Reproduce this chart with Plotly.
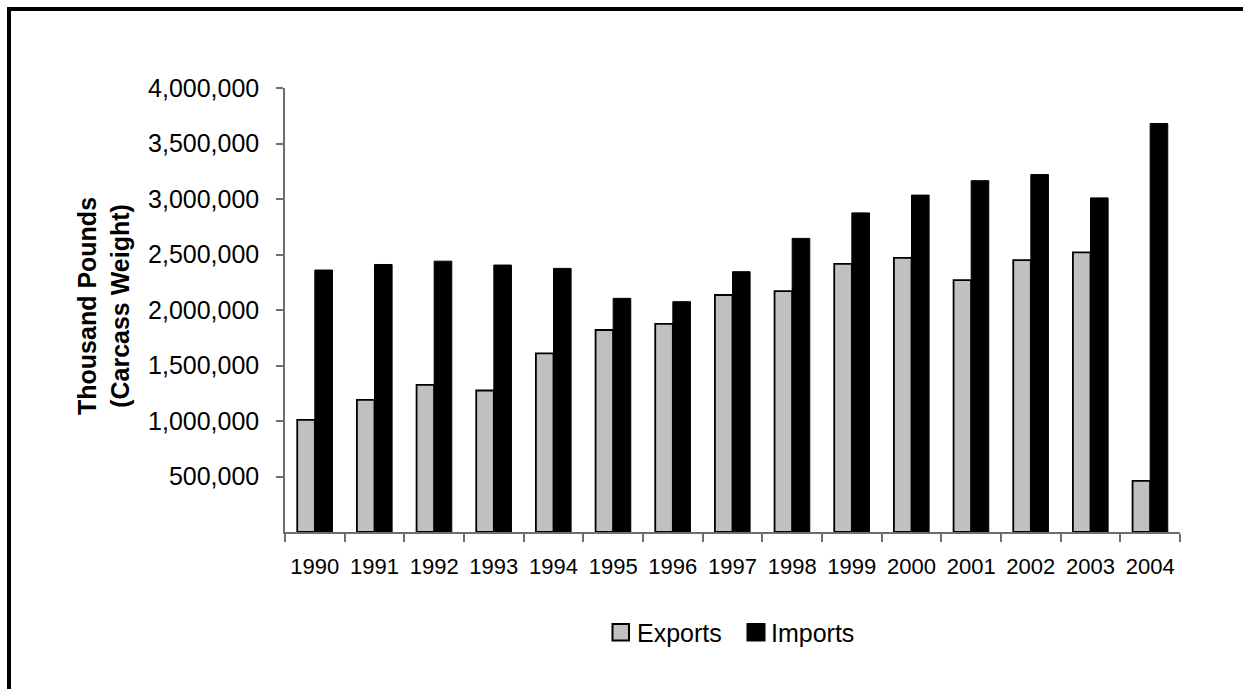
import plotly.graph_objects as go

# Beef trade, thousand pounds (carcass weight)
years = ["1990", "1991", "1992", "1993", "1994", "1995", "1996", "1997",
         "1998", "1999", "2000", "2001", "2002", "2003", "2004"]
exports = [1010000, 1190000, 1325000, 1275000, 1610000, 1820000, 1875000, 2135000,
           2170000, 2415000, 2470000, 2270000, 2450000, 2520000, 460000]
imports = [2360000, 2410000, 2440000, 2405000, 2375000, 2105000, 2075000, 2345000,
           2645000, 2875000, 3035000, 3165000, 3220000, 3010000, 3680000]
y_ticks = [500000, 1000000, 1500000, 2000000, 2500000, 3000000, 3500000, 4000000]

W_PX, H_PX = 1243, 689
L, R, T, B = 285, 1180, 88, 532  # plot area in pixels


def px_x(p):
    return (p - L) / (R - L)


def px_y(p):
    return (B - p) / (B - T)


FONT = "Liberation Sans, Arial, sans-serif"

fig = go.Figure()
fig.add_trace(go.Bar(
    x=years, y=exports, name="Exports",
    marker=dict(color="#C0C0C0", line=dict(color="#000000", width=1.8)),
    showlegend=False,
))
fig.add_trace(go.Bar(
    x=years, y=imports, name="Imports",
    marker=dict(color="#000000", line=dict(color="#000000", width=1)),
    showlegend=False,
))

shapes = [
    # outer frame (left and top edges)
    dict(type="line", xref="paper", yref="paper",
         x0=px_x(9), x1=px_x(9), y0=px_y(7), y1=px_y(700),
         line=dict(color="#000000", width=4)),
    dict(type="line", xref="paper", yref="paper",
         x0=px_x(7), x1=px_x(1260), y0=px_y(9), y1=px_y(9),
         line=dict(color="#000000", width=4)),
    # legend swatches
    dict(type="rect", xref="paper", yref="paper",
         x0=px_x(612.5), x1=px_x(629), y0=px_y(624), y1=px_y(640.5),
         fillcolor="#C0C0C0", line=dict(color="#000000", width=2)),
    dict(type="rect", xref="paper", yref="paper",
         x0=px_x(747.5), x1=px_x(764.5), y0=px_y(624), y1=px_y(640.5),
         fillcolor="#000000", line=dict(color="#000000", width=2)),
]

annotations = [
    dict(text="<b>Thousand Pounds<br>(Carcass Weight)</b>", textangle=-90,
         xref="paper", yref="paper", x=px_x(103), y=px_y(306),
         xanchor="center", yanchor="middle", showarrow=False,
         font=dict(family=FONT, size=25, color="#000000")),
    dict(text="Exports", xref="paper", yref="paper",
         x=px_x(635), y=px_y(633), xanchor="left", yanchor="middle",
         showarrow=False, font=dict(family=FONT, size=25, color="#000000")),
    dict(text="Imports", xref="paper", yref="paper",
         x=px_x(769), y=px_y(633), xanchor="left", yanchor="middle",
         showarrow=False, font=dict(family=FONT, size=25, color="#000000")),
]

fig.update_layout(
    width=W_PX, height=H_PX,
    margin=dict(l=L, r=W_PX - R, t=T, b=H_PX - B, pad=0),
    paper_bgcolor="#FFFFFF", plot_bgcolor="#FFFFFF",
    barmode="group", bargap=0.41, bargroupgap=0,
    font=dict(family=FONT, color="#000000"),
    shapes=shapes, annotations=annotations,
)

fig.update_xaxes(
    type="category", range=[-0.5, 14.5],
    showline=True, linecolor="#6E6E6E", linewidth=1.5,
    ticks="outside", tickson="boundaries", ticklen=8, tickwidth=1.5, tickcolor="#6E6E6E",
    tickfont=dict(family=FONT, size=22, color="#000000"),
    ticklabelstandoff=14, showgrid=False, zeroline=False,
)
fig.update_yaxes(
    range=[0, 4000000], tickvals=y_ticks, tickformat=",d",
    showline=True, linecolor="#6E6E6E", linewidth=1.5,
    ticks="outside", ticklen=7, tickwidth=1.5, tickcolor="#6E6E6E",
    tickfont=dict(family=FONT, size=25, color="#000000"),
    ticklabelstandoff=12, showgrid=False, zeroline=False,
)

fig.write_html("out.html")
